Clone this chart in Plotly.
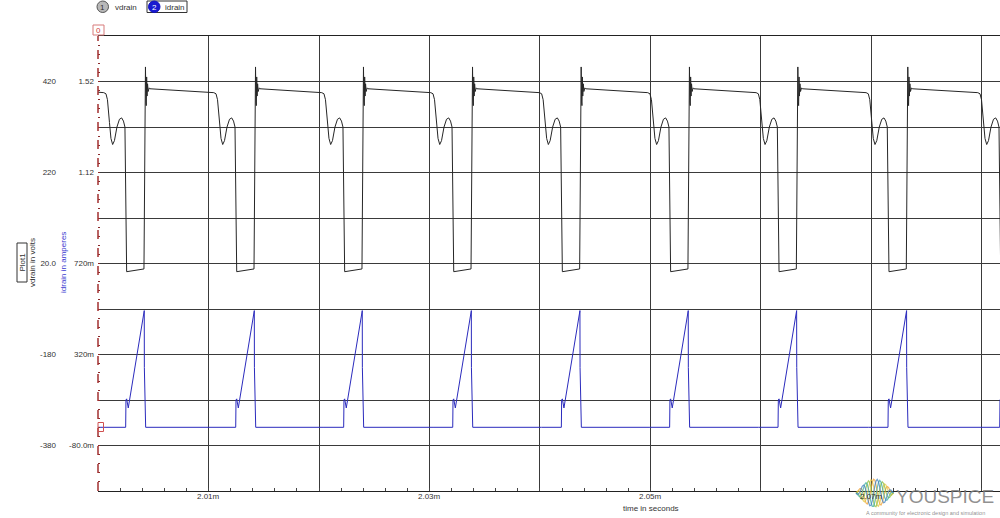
import math
import plotly.graph_objects as go

# ---------------- data ----------------
# start of each switching cycle (vdrain begins to fall), microseconds after t = 2.000 ms
CYCLE_START_US = [0.72, 10.68, 20.45, 30.32, 40.15, 49.95, 59.76, 69.71, 79.82]

# vdrain shape of one cycle: offset from cycle start (us) and voltage (V)
VD_OFFSET_US = [-0.20, 0.0, 0.136, 0.317, 0.452, 0.606, 0.769, 0.995, 1.222, 1.421,
                1.584, 1.719, 1.765, 1.873, 3.439, 3.475, 3.548, 3.575, 3.620, 3.647,
                3.683, 3.720, 3.765, 3.819, 3.910, 3.982]
VD_VOLTS = [395.5, 393, 380, 330, 295, 281.5, 290, 320, 337, 340,
            333, 320, 224, 2, 8, 220, 440, 452, 375, 367,
            430, 388, 415, 398, 406, 404]
VD_START = 396.5  # value at left edge

# idrain shape of one cycle: offset (us) and current (A)
ID_OFFSET_US = [0.0, 1.783, 1.810, 1.873, 2.018, 3.466, 3.475, 3.593]
ID_AMPS = [0.0, 0.0, 0.12, 0.125, 0.085, 0.513, 0.263, 0.0]
ID_START = 0.0

T0_S = 2.000e-3
T_END_US = 81.63

X_TICKS_US = [10, 20, 30, 40, 50, 60, 70, 80]
X_TICK_TEXT = ["2.01m", "", "2.03m", "", "2.05m", "", "2.07m", ""]
V_TICKS = [-380, -280, -180, -80, 20, 120, 220, 320, 420]
V_TICK_TEXT = ["-380", "", "-180", "", "20.0", "", "220", "", "420"]
A_TICKS = [-0.08, 0.32, 0.72, 1.12, 1.52]
A_TICK_TEXT = ["-80.0m", "320m", "720m", "1.12", "1.52"]

# ---------------- build series ----------------
vt, vv = [0.0], [VD_START]
it, iv = [0.0], [ID_START]
for c in CYCLE_START_US:
    for o, v in zip(VD_OFFSET_US, VD_VOLTS):
        vt.append(c + o); vv.append(v)
    for o, a in zip(ID_OFFSET_US, ID_AMPS):
        it.append(c + o); iv.append(a)
vt_s = [T0_S + u * 1e-6 for u in vt]
it_s = [T0_S + u * 1e-6 for u in it]

W, H = 1000, 518
L, R, T, B = 98, 0, 36, 27
PW, PH = W - L - R, H - T - B


def px(x):
    return (x - L) / PW


def py(y):
    return (H - B - y) / PH


FONT = "Liberation Sans"
TXT = "#333333"
fig = go.Figure()
fig.add_trace(go.Scatter(x=vt_s, y=vv, mode="lines", name="vdrain",
                         line=dict(color="#262626", width=1), yaxis="y"))
fig.add_trace(go.Scatter(x=it_s, y=iv, mode="lines", name="idrain",
                         line=dict(color="#2b2bbd", width=1), yaxis="y2"))

fig.update_layout(
    width=W, height=H, margin=dict(l=L, r=R, t=T, b=B, autoexpand=False),
    paper_bgcolor="white", plot_bgcolor="white", showlegend=False,
    font=dict(family=FONT, size=8, color=TXT),
    xaxis=dict(
        range=[T0_S, T0_S + T_END_US * 1e-6],
        tickmode="array", tickvals=[T0_S + u * 1e-6 for u in X_TICKS_US],
        ticktext=X_TICK_TEXT, showticklabels=False,
        showgrid=True, gridcolor="#3a3a3a", gridwidth=1,
        ticks="", showline=True, linecolor="#222222", linewidth=1, mirror=True,
        zeroline=False, automargin=False,
        minor=dict(tickmode="array",
                   tickvals=[T0_S + k * 2e-6 for k in range(1, 41)],
                   ticks="inside", ticklen=3, tickcolor="#444444", showgrid=False),
    ),
    yaxis=dict(
        range=[-480, 520], tickmode="array", tickvals=V_TICKS, ticktext=V_TICK_TEXT,
        showgrid=True, gridcolor="#3a3a3a", gridwidth=1, zeroline=False,
        showline=False, ticks="", ticklabelstandoff=41, automargin=False,
        tickfont=dict(size=8, color=TXT),
        minor=dict(tickmode="array", tickvals=list(range(-460, 520, 20)),
                   ticks="inside", ticklen=2, tickcolor="#8b2a2a", showgrid=False),
    ),
    yaxis2=dict(
        range=[-0.28, 1.72], overlaying="y", side="left", anchor="x",
        tickmode="array", tickvals=A_TICKS, ticktext=A_TICK_TEXT,
        showgrid=False, zeroline=False, showline=False, ticks="", automargin=False,
        ticklabelstandoff=3, tickfont=dict(size=8, color=TXT),
    ),
)

shapes = []
# red dashed left axis
shapes.append(dict(type="line", xref="paper", yref="paper", x0=0, x1=0, y0=0, y1=1,
                   line=dict(color="#a33030", width=1.5, dash="dash")))
# red "0" marker box at top-left
shapes.append(dict(type="rect", xref="paper", yref="paper",
                   x0=px(93), x1=px(104), y0=py(35), y1=py(25),
                   line=dict(color="#d77a7a", width=1), fillcolor="white"))
# red square marker on idrain start
shapes.append(dict(type="rect", xref="paper", yref="paper",
                   x0=px(98), x1=px(103.5), y0=py(431.5), y1=py(422.5),
                   line=dict(color="#d05050", width=1)))
# Plot1 box
shapes.append(dict(type="rect", xref="paper", yref="paper",
                   x0=px(17), x1=px(27), y0=py(282), y1=py(243),
                   line=dict(color="#333333", width=1)))
# legend markers
shapes.append(dict(type="circle", xref="paper", yref="paper",
                   x0=px(97), x1=px(108.5), y0=py(12.5), y1=py(1),
                   line=dict(color="#555555", width=1), fillcolor="#b8b8b8"))
shapes.append(dict(type="rect", xref="paper", yref="paper",
                   x0=px(147), x1=px(187), y0=py(12.5), y1=py(1),
                   line=dict(color="#333333", width=1)))
shapes.append(dict(type="circle", xref="paper", yref="paper",
                   x0=px(148.5), x1=px(160), y0=py(12.5), y1=py(1),
                   line=dict(color="#1010c0", width=1), fillcolor="#1a1ad0"))

# logo waves (decorative)
wave_cols = ["#f0a030", "#e8c840", "#90c040", "#40b0a0", "#4080c0"]
for j, col in enumerate(wave_cols):
    pts = []
    for k in range(0, 31):
        xx = 856 + k * 1.25
        amp = 14 * math.sin(math.pi * k / 30)
        yy = 493 - amp * math.sin(k * 0.55 + j * 1.2)
        pts.append((px(xx), py(yy)))
    path = "M " + " L ".join(f"{a:.5f},{b:.5f}" for a, b in pts)
    shapes.append(dict(type="path", xref="paper", yref="paper", path=path,
                       line=dict(color=col, width=1.2), opacity=0.75))

fig.update_layout(shapes=shapes)


def note(text, x, y, size=8, color=TXT, xanchor="center", angle=0, family=FONT):
    return dict(text=text, x=px(x), y=py(y), xref="paper", yref="paper",
                xanchor=xanchor, yanchor="middle", textangle=angle, showarrow=False,
                font=dict(size=size, color=color, family=family))


ann = [
    note("0", 98.5, 30.5, color="#d04040"),
    note("1", 102.8, 7),
    note("vdrain", 113, 7, xanchor="left"),
    note("2", 154.3, 7, color="white"),
    note("idrain", 163, 7, xanchor="left"),
    note("Plot1", 22, 262.5, angle=-90),
    note("vdrain in volts", 32.5, 262.5, angle=-90),
    note("idrain in amperes", 63.5, 262.5, angle=-90, color="#3a3ad0"),
    note("time in seconds", 651, 508),
    note("YOUSPICE", 945, 496, size=19, color="rgba(125,125,125,0.85)"),
    note("A community for electronic design and simulation", 925, 513, size=5.5,
         color="rgba(130,130,130,0.9)"),
]
# x tick labels placed at the axis tick values
for u, lab in zip(X_TICKS_US, X_TICK_TEXT):
    if lab:
        ann.append(dict(text=lab, x=T0_S + u * 1e-6, y=py(496.5), xref="x", yref="paper",
                        xanchor="center", yanchor="middle", showarrow=False,
                        font=dict(size=8, color=TXT)))
fig.update_layout(annotations=ann)

fig.write_html("out.html", config={"displayModeBar": False},
               post_script="document.body.style.margin='0';document.body.style.padding='0';")
